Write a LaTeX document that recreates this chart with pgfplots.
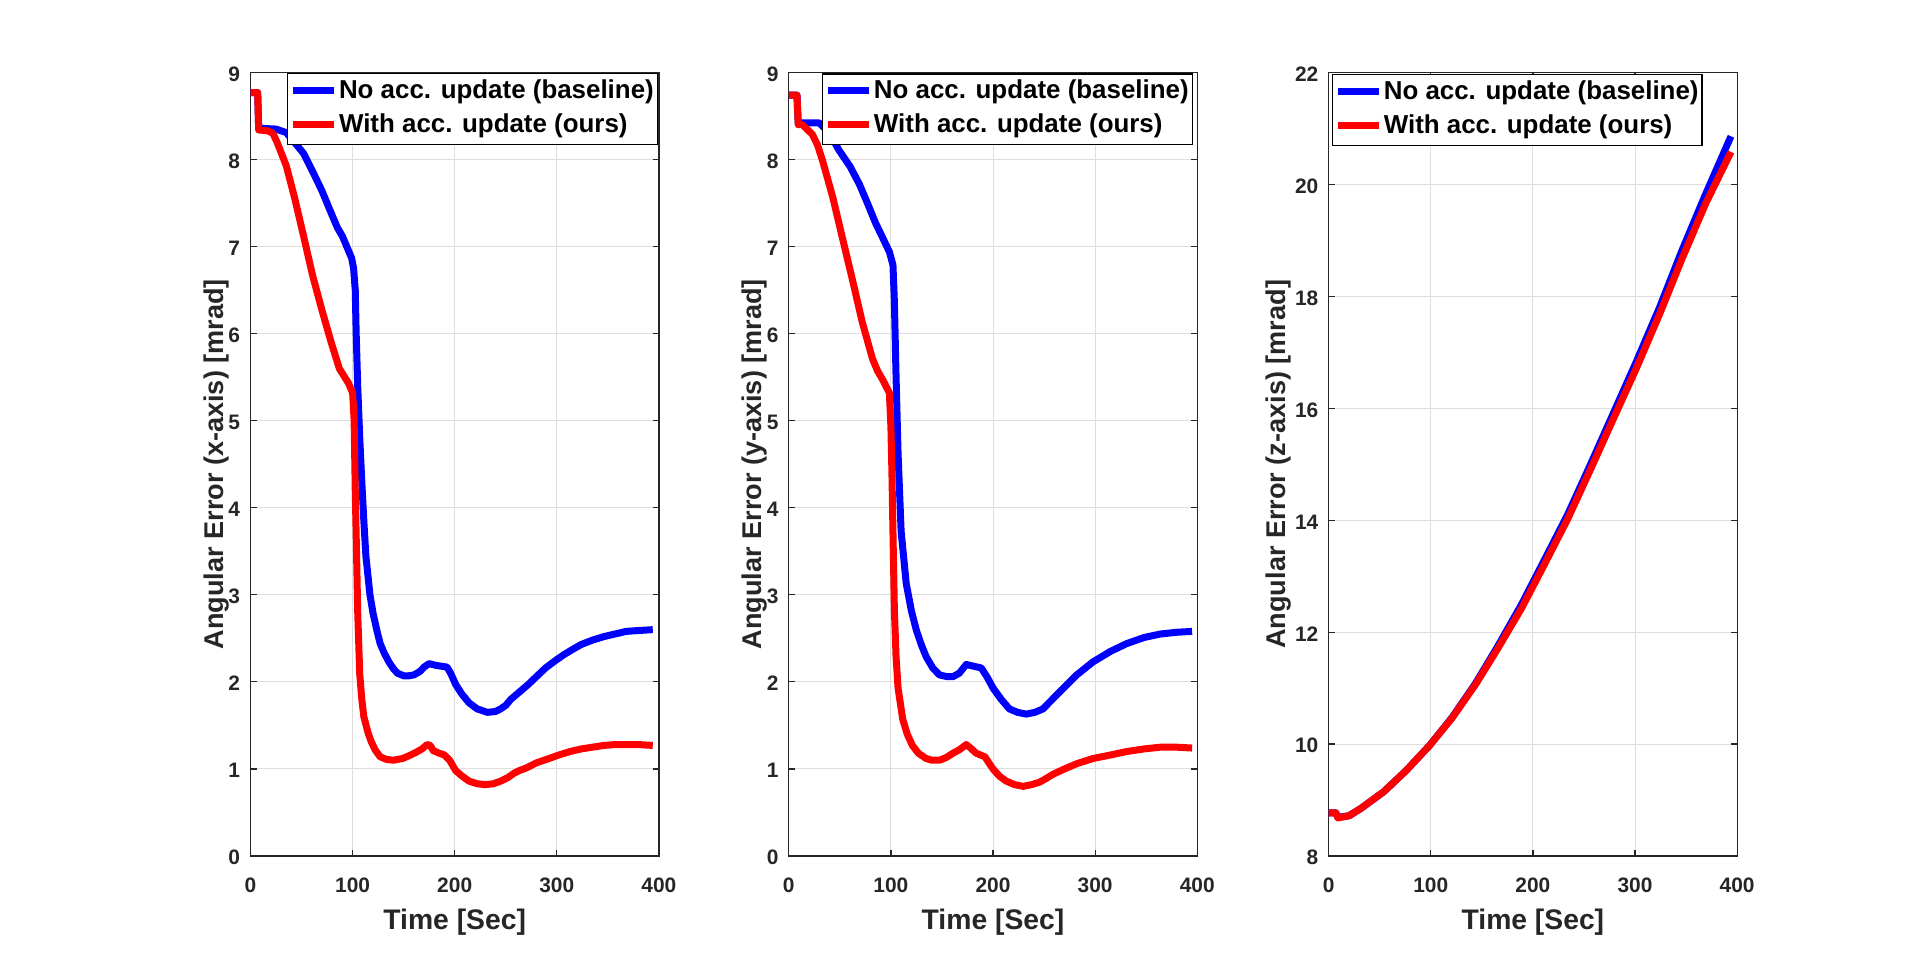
\documentclass[border=0pt]{standalone}
\usepackage{fontspec}
\setmainfont{Liberation Sans}
\usepackage{pgfplots}
\pgfplotsset{compat=1.18}
\definecolor{axgray}{rgb}{0.15,0.15,0.15}
\definecolor{gridgray}{rgb}{0.87,0.87,0.87}
\pgfplotsset{
 myaxis/.style={
  scale only axis, width=204.2bp, height=391.75bp,
  anchor=south west,
  xmin=0, xmax=400, xtick={0,100,200,300,400},
  axis line style={axgray, line width=0.6bp},
  tick style={axgray, line width=0.6bp},
  major tick length=3bp,
  tick align=inside,
  grid=major,
  major grid style={gridgray, line width=0.5bp},
  /pgf/number format/assume math mode=true,
  tick label style={font=\fontsize{10.5}{12}\selectfont\bfseries, text=axgray},
  xticklabel style={anchor=north, inner sep=0pt, yshift=-10.5bp},
  yticklabel style={anchor=east, inner sep=0pt, xshift=-5bp, yshift=-0.8bp},
  label style={font=\fontsize{14.2}{16}\selectfont\bfseries, text=axgray},
  xlabel={Time [Sec]},
  xlabel style={at={(axis description cs:0.5,-0.0944)}, anchor=base},
  ylabel style={at={(axis description cs:-0.0666,0.5)}, anchor=base, font=\fontsize{13.6}{16}\selectfont\bfseries},
  legend cell align=left,
  legend image code/.code={\draw[##1] (0bp,1bp) -- (20.5bp,1bp);},
  legend style={font=\fontsize{13}{15}\selectfont\bfseries, draw=black, line width=0.6bp, fill=white, inner xsep=1bp, inner ysep=3bp, row sep=4.6bp, nodes={inner xsep=0.75bp, inner ysep=0bp, text height=9.4bp, text depth=3bp}},
 },
 bl/.style={blue, line width=3.5bp, line join=round},
 rd/.style={red, line width=3.5bp, line join=round},
}
\begin{document}
\begin{tikzpicture}
\path[use as bounding box] (0,0) rectangle (960bp,481.5bp);
% ---------------- left: x-axis
\begin{axis}[myaxis, at={(125.25bp,53.5bp)}, ymin=0, ymax=9, ytick={0,1,...,9},
  ylabel={Angular Error (x-axis) [mrad]},
  legend style={at={(1,1)}, anchor=north east, xshift=-0.5bp, yshift=-0.3bp}]
\addplot[bl] coordinates {(0,8.77)(7,8.77)(8,8.36)(25,8.35)(35,8.31)(43,8.2)(52,8.07)(61,7.86)(70,7.64)(78.5,7.4)(85,7.22)(90,7.12)(95,6.98)(99,6.87)(101,6.75)(102.6,6.5)(103.5,6.0)(105,5.4)(107,4.8)(108,4.55)(109,4.3)(111,3.85)(113,3.45)(114.5,3.28)(117,3.0)(120,2.79)(124,2.58)(127,2.44)(131,2.33)(135.5,2.23)(140,2.15)(144,2.1)(150,2.07)(155,2.07)(160,2.08)(166,2.12)(170,2.17)(175,2.21)(181.5,2.19)(187,2.18)(192.5,2.17)(196,2.1)(201,1.97)(207,1.86)(214,1.76)(222,1.69)(232,1.65)(240,1.66)(245,1.69)(250,1.73)(255,1.8)(262,1.87)(272,1.97)(280,2.06)(289,2.16)(298,2.24)(306.6,2.31)(315,2.37)(324,2.43)(335,2.48)(346,2.52)(357,2.55)(368,2.58)(380,2.59)(394,2.6)};
\addlegendentry{No acc. update (baseline)}
\addplot[rd] coordinates {(0,8.77)(7,8.77)(8,8.34)(17,8.33)(22,8.30)(26,8.2)(30,8.08)(35,7.93)(43,7.57)(52,7.12)(61,6.66)(70,6.27)(78.5,5.92)(87,5.6)(96,5.43)(100,5.32)(101.5,5.0)(102.6,4.2)(104,3.4)(105,2.8)(107,2.09)(109,1.8)(111,1.6)(115,1.42)(118,1.32)(122,1.22)(127,1.14)(133,1.11)(140,1.1)(149,1.12)(155,1.15)(162,1.19)(168,1.23)(173,1.28)(176,1.27)(179,1.21)(185,1.18)(190,1.16)(195,1.1)(201,0.98)(207,0.92)(214,0.86)(222,0.83)(230,0.82)(238,0.83)(245,0.86)(252,0.9)(258,0.95)(263,0.98)(270,1.01)(280,1.07)(290,1.11)(302,1.16)(313,1.2)(324,1.23)(335,1.25)(346,1.27)(357,1.28)(368,1.28)(380,1.28)(394,1.27)};
\addlegendentry{With acc. update (ours)}
\end{axis}
% ---------------- middle: y-axis
\begin{axis}[myaxis, at={(394.4bp,53.5bp)}, ymin=0, ymax=9, ytick={0,1,...,9},
  ylabel={Angular Error (y-axis) [mrad]},
  legend style={at={(1,1)}, anchor=north east, xshift=-2.2bp, yshift=-0.5bp}]
\addplot[bl] coordinates {(0,8.74)(8,8.74)(9.2,8.42)(30,8.42)(40,8.3)(49,8.11)(60,7.92)(69,7.72)(77,7.5)(85,7.27)(92,7.1)(98.5,6.94)(102,6.79)(103.4,6.37)(105,5.53)(107,4.63)(110,3.73)(115,3.13)(120,2.82)(125,2.59)(130,2.42)(134.5,2.29)(141,2.16)(147.6,2.08)(155,2.06)(160.7,2.06)(167,2.1)(173.8,2.2)(181,2.18)(188.5,2.16)(194,2.06)(200,1.93)(208,1.8)(216,1.69)(224,1.65)(232.7,1.63)(241,1.65)(249,1.69)(259,1.81)(270,1.94)(282,2.08)(298,2.23)(315,2.35)(331,2.44)(348,2.51)(364,2.55)(380,2.57)(395,2.58)};
\addlegendentry{No acc. update (baseline)}
\addplot[rd] coordinates {(0,8.74)(8,8.74)(9.2,8.4)(13.4,8.4)(23,8.29)(28,8.17)(33,7.99)(43,7.57)(52.7,7.09)(62.5,6.61)(72,6.13)(82,5.71)(87,5.57)(92,5.47)(98.5,5.32)(100,4.93)(101,4.4)(102,3.73)(103.4,2.83)(105,2.3)(107,1.93)(111.6,1.57)(116,1.4)(121,1.27)(127,1.18)(134.5,1.12)(140,1.1)(147.6,1.1)(154,1.13)(160.7,1.18)(167,1.22)(173.8,1.28)(178,1.24)(183.6,1.18)(192,1.14)(196,1.07)(200,1.0)(206,0.92)(213,0.86)(221,0.82)(229.5,0.8)(238,0.82)(246,0.85)(252,0.89)(259,0.94)(270,1.0)(282,1.06)(298,1.12)(315,1.16)(331,1.2)(348,1.23)(364,1.25)(380,1.25)(395,1.24)};
\addlegendentry{With acc. update (ours)}
\end{axis}
% ---------------- right: z-axis
\begin{axis}[myaxis, at={(664.35bp,53.5bp)}, ymin=8, ymax=22, ytick={8,10,...,22},
  ylabel={Angular Error (z-axis) [mrad]},
  ylabel style={at={(axis description cs:-0.1058,0.5)}},
  legend style={at={(0,1)}, anchor=north west, xshift=1.5bp, yshift=-0.8bp}]
\addplot[bl] coordinates {(0,8.77)(7,8.77)(9,8.69)(20,8.72)(31.5,8.85)(54,9.15)(76,9.53)(99,9.98)(121,10.48)(144,11.09)(166,11.76)(189,12.5)(211,13.28)(234,14.1)(256,14.98)(279,15.92)(301,16.82)(324,17.8)(346,18.82)(369,19.82)(394,20.86)};
\addlegendentry{No acc. update (baseline)}
\addplot[rd] coordinates {(0,8.77)(7,8.77)(9,8.68)(20,8.72)(31.5,8.85)(54,9.15)(76,9.53)(99,9.98)(121,10.47)(144,11.07)(166,11.72)(189,12.43)(211,13.2)(234,14.02)(256,14.89)(279,15.82)(301,16.7)(324,17.68)(346,18.67)(369,19.65)(394,20.58)};
\addlegendentry{With acc. update (ours)}
\end{axis}
\end{tikzpicture}
\end{document}
